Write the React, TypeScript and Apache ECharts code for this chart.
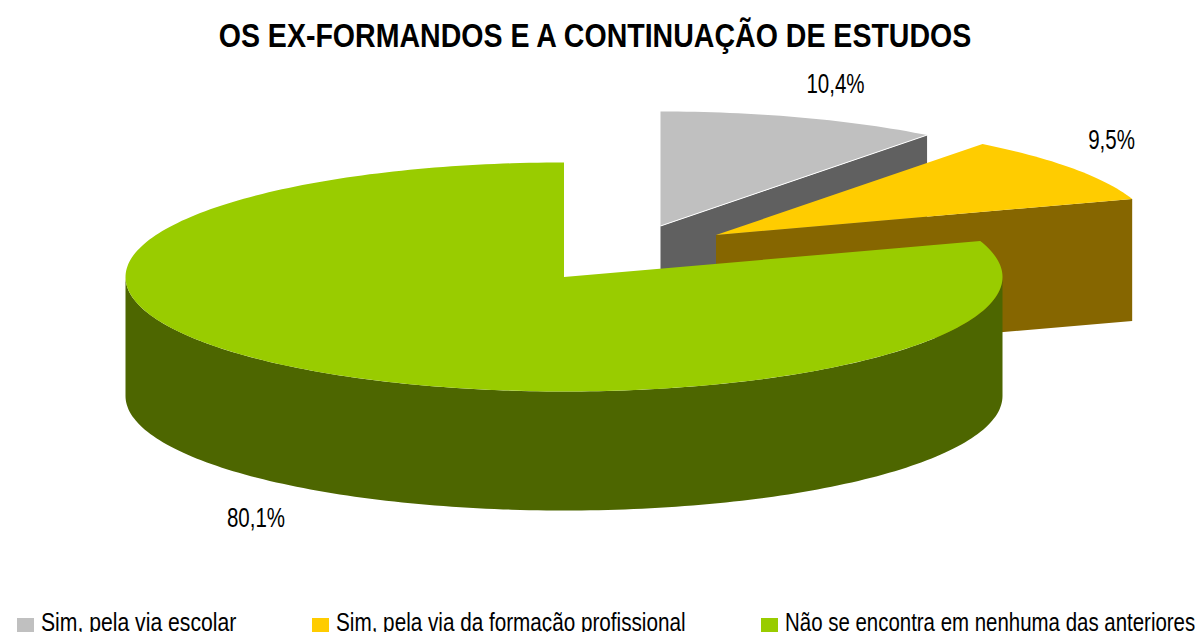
import React, { useEffect, useRef } from "react";
import * as echarts from "echarts";

const titleText = "OS EX-FORMANDOS E A CONTINUAÇÃO DE ESTUDOS";
const categories = [
  "Sim, pela via escolar",
  "Sim, pela via da formação profissional",
  "Não se encontra em nenhuma das anteriores",
];
const values = [10.4, 9.5, 80.1];
const valueLabels = ["10,4%", "9,5%", "80,1%"];
const topColors = ["#C0C0C0", "#FFCC00", "#99CC00"];
const wallColors = ["#606060", "#866600", "#4D6600"];

// Projection of the tilted pie
const RX = 438.5;
const RY = 114.5;
const DEPTH = 119;
const apexes = [
  [660.5, 226],
  [716, 235],
  [564, 277],
];
const wallDepths = [119, 122, 119];
const labelPos = [
  [835.5, 83],
  [1111.5, 139],
  [256, 517],
];
const legendSwatchX = [17, 312, 761];
const legendTextX = [41, 336, 785];
const legendTextScale = [0.847, 0.828, 0.818];
const FONT = "'Liberation Sans', Arial, sans-serif";

const total = values.reduce((a, b) => a + b, 0);
const fraction = (i: number) => values.slice(0, i).reduce((a, b) => a + b, 0) / total;

function rim(apex: number[], a: number, dy = 0) {
  return [apex[0] + RX * Math.sin(a), apex[1] - RY * Math.cos(a) + dy];
}

function arc(apex: number[], a0: number, a1: number, dy = 0) {
  const n = Math.max(2, Math.ceil(Math.abs(a1 - a0) / 0.02));
  const pts: number[][] = [];
  for (let k = 0; k <= n; k++) pts.push(rim(apex, a0 + ((a1 - a0) * k) / n, dy));
  return pts;
}

function renderSlice(i: number) {
  return (_params: any, api: any) => {
    const value = api.value(0);
    const a0 = fraction(i) * Math.PI * 2;
    const a1 = a0 + (value / total) * Math.PI * 2;
    const apex = apexes[i];
    const d = wallDepths[i];
    const children: any[] = [];

    if (i < 2) {
      const e = rim(apex, a1);
      children.push({
        type: "polygon",
        shape: { points: [apex, e, [e[0], e[1] + d], [apex[0], apex[1] + d]] },
        style: { fill: wallColors[i] },
      });
    }
    const fA = Math.max(a0, Math.PI / 2);
    const fB = Math.min(a1, (Math.PI * 3) / 2);
    if (fB > fA) {
      children.push({
        type: "polygon",
        shape: { points: [...arc(apex, fA, fB), ...arc(apex, fB, fA, DEPTH)] },
        style: { fill: wallColors[i] },
      });
    }
    children.push({
      type: "polygon",
      shape: { points: [apex, ...arc(apex, a0, a1)] },
      style: { fill: topColors[i] },
    });
    if (i === 0) {
      children.push({
        type: "line",
        shape: { x1: apex[0], y1: apex[1], x2: rim(apex, a1)[0], y2: rim(apex, a1)[1] },
        style: { stroke: "#FFFFFF", lineWidth: 1 },
      });
    }
    children.push({
      type: "text",
      x: labelPos[i][0],
      y: labelPos[i][1],
      scaleX: 0.76,
      style: {
        text: valueLabels[i],
        fill: "#000000",
        font: `27px ${FONT}`,
        align: "center",
        verticalAlign: "middle",
      },
    });
    return { type: "group", children };
  };
}

export default function App() {
  const ref = useRef<HTMLDivElement>(null);
  useEffect(() => {
    const chart = echarts.init(ref.current!, undefined, { renderer: "svg" });
    chart.setOption({
      animation: false,
      backgroundColor: "#FFFFFF",
      graphic: [
        {
          type: "text",
          x: 595,
          y: 36,
          scaleX: 0.84,
          style: {
            text: titleText,
            fill: "#000000",
            font: `bold 34px ${FONT}`,
            align: "center",
            verticalAlign: "middle",
          },
        },
        ...categories.flatMap((name, i) => [
          {
            type: "rect",
            shape: { x: legendSwatchX[i], y: 618, width: 17, height: 14 },
            style: { fill: topColors[i] },
          },
          {
            type: "text",
            x: legendTextX[i],
            y: 622,
            scaleX: legendTextScale[i],
            style: {
              text: name,
              fill: "#000000",
              font: `25px ${FONT}`,
              align: "left",
              verticalAlign: "middle",
            },
          },
        ]),
      ],
      series: categories.map((name, i) => ({
        type: "custom",
        name,
        coordinateSystem: "none",
        itemStyle: { color: topColors[i] },
        data: [[values[i]]],
        renderItem: renderSlice(i),
        silent: true,
        z: i + 1,
      })),
    });
    return () => chart.dispose();
  }, []);
  return <div ref={ref} style={{ position: "absolute", left: 0, top: 0, width: 1195, height: 632 }} />;
}
